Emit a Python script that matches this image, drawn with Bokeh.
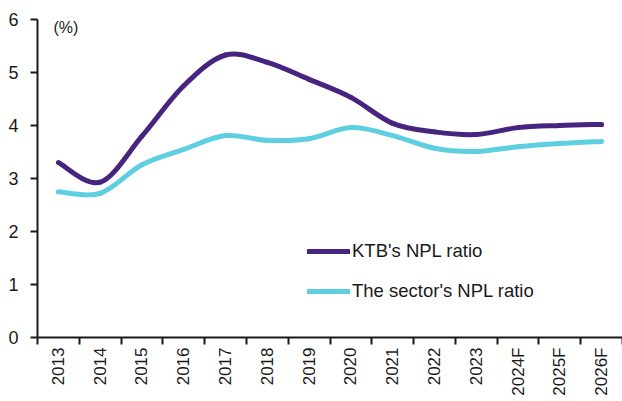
from bokeh.plotting import figure
from bokeh.models import Range1d, FixedTicker, Label, Legend, LegendItem
from bokeh.embed import file_html
from bokeh.resources import INLINE

years = ["2013", "2014", "2015", "2016", "2017", "2018", "2019", "2020",
         "2021", "2022", "2023", "2024F", "2025F", "2026F"]
ktb_npl = [3.30, 2.93, 3.80, 4.75, 5.33, 5.19, 4.87, 4.53, 4.04, 3.88, 3.83, 3.96, 4.00, 4.02]
sector_npl = [2.75, 2.72, 3.26, 3.55, 3.81, 3.72, 3.75, 3.96, 3.81, 3.57, 3.51, 3.60, 3.66, 3.70]

PURPLE = "#47247f"
CYAN = "#5ecfe0"
FONT = "Liberation Sans"

p = figure(width=622, height=401, output_backend="svg", toolbar_location=None,
           x_range=Range1d(0, len(years)), y_range=Range1d(0, 6),
           min_border_left=37, min_border_right=0, min_border_top=19,
           min_border_bottom=64)
p.outline_line_color = None
p.xgrid.visible = False
p.ygrid.visible = False
p.background_fill_color = "white"


def bezier_segments(vals):
    xs = [i + 0.5 for i in range(len(vals))]
    n = len(vals)
    d = dict(x0=[], y0=[], x1=[], y1=[], cx0=[], cy0=[], cx1=[], cy1=[])
    for i in range(n - 1):
        im = max(i - 1, 0)
        ip2 = min(i + 2, n - 1)
        d["x0"].append(xs[i]); d["y0"].append(vals[i])
        d["x1"].append(xs[i + 1]); d["y1"].append(vals[i + 1])
        d["cx0"].append(xs[i] + (xs[i + 1] - xs[im]) / 6)
        d["cy0"].append(vals[i] + (vals[i + 1] - vals[im]) / 6)
        d["cx1"].append(xs[i + 1] - (xs[ip2] - xs[i]) / 6)
        d["cy1"].append(vals[i + 1] - (vals[ip2] - vals[i]) / 6)
    return d


r_sec = p.bezier(line_color=CYAN, line_width=5, line_cap="round", **bezier_segments(sector_npl))
r_ktb = p.bezier(line_color=PURPLE, line_width=5, line_cap="round", **bezier_segments(ktb_npl))

# x axis: labels at category centres, ticks at category boundaries
xa = p.xaxis[0]
xa.ticker = FixedTicker(ticks=[i + 0.5 for i in range(len(years))],
                        minor_ticks=list(range(len(years) + 1)))
xa.major_label_overrides = {i + 0.5: y for i, y in enumerate(years)}
xa.major_label_orientation = 3.14159265 / 2
xa.major_tick_line_color = None
xa.major_tick_out = 7
xa.major_tick_in = 0
xa.minor_tick_out = 7
xa.minor_tick_in = 0
xa.minor_tick_line_color = "#1a1a1a"
xa.minor_tick_line_width = 2
xa.axis_line_color = "#1a1a1a"
xa.axis_line_width = 2
xa.major_label_standoff = 3
xa.major_label_text_font = FONT
xa.major_label_text_font_size = "17px"
xa.major_label_text_color = "#1a1a1a"

ya = p.yaxis[0]
ya.ticker = FixedTicker(ticks=[0, 1, 2, 3, 4, 5, 6], minor_ticks=[])
ya.major_tick_out = 7
ya.major_tick_in = 0
ya.major_tick_line_color = "#1a1a1a"
ya.major_tick_line_width = 2
ya.axis_line_color = "#1a1a1a"
ya.axis_line_width = 2
ya.major_label_standoff = 12
ya.major_label_text_font = FONT
ya.major_label_text_font_size = "18px"
ya.major_label_text_color = "#1a1a1a"

p.add_layout(Label(x=0.38, y=5.85, text="(%)", text_font=FONT, text_font_size="16px",
                   text_baseline="middle", text_color="#1a1a1a"))

legend = Legend(items=[LegendItem(label="KTB's NPL ratio", renderers=[r_ktb]),
                       LegendItem(label="The sector's NPL ratio", renderers=[r_sec])],
                location=(270, 35), orientation="vertical",
                glyph_width=43, glyph_height=20, label_height=20, spacing=18,
                padding=0, margin=0, label_standoff=2,
                border_line_color=None, background_fill_alpha=0,
                label_text_font=FONT, label_text_font_size="18.5px",
                label_text_color="#1a1a1a")
p.add_layout(legend)

open("out.html", "w").write(file_html(p, INLINE))
